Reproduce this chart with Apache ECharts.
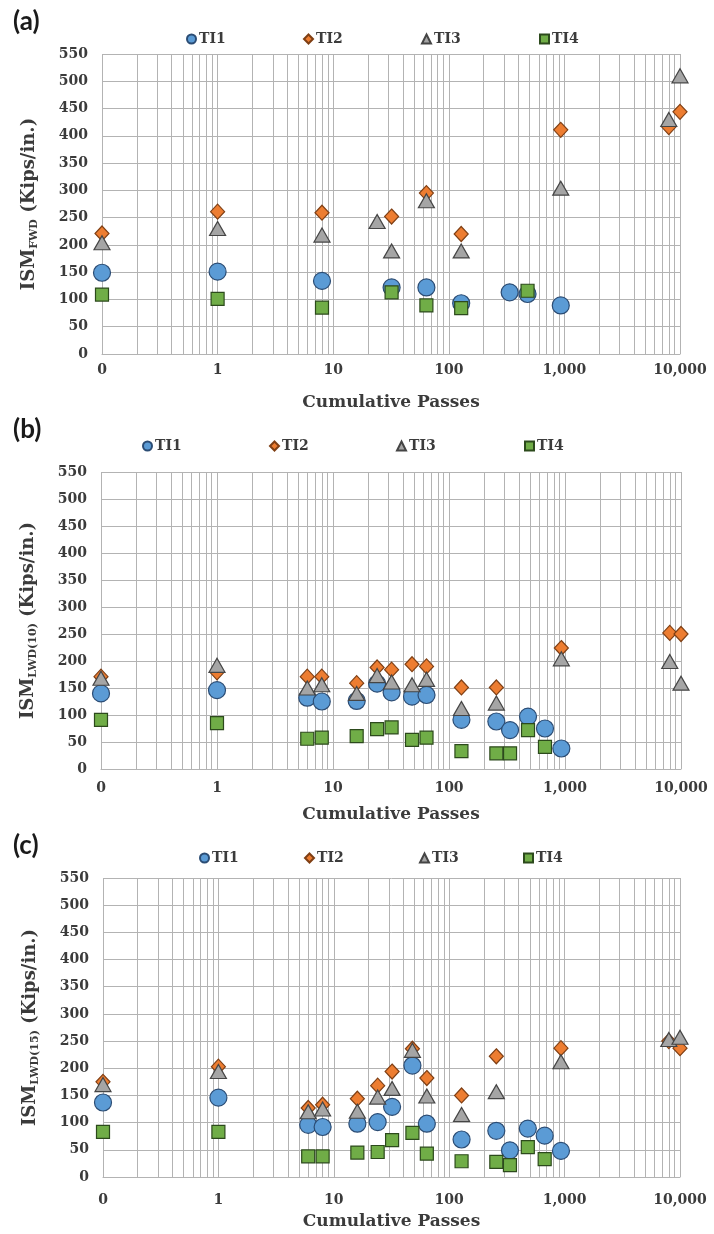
<!DOCTYPE html>
<html>
<head>
<meta charset="utf-8">
<script src="https://cdn.jsdelivr.net/npm/echarts@6/dist/echarts.min.js"></script>
<style>
  html, body { margin: 0; padding: 0; background: #ffffff; }
  #chart { width: 714px; height: 1234px; }
</style>
</head>
<body>
<div id="chart"></div>
<script>
// Series names and x-axis tick labels (the "0" tick sits at 0.1 passes on the log axis)
const seriesNames = ['TI1', 'TI2', 'TI3', 'TI4'];
const xTickValues = [0.1, 1, 10, 100, 1000, 10000];
const xTickLabels = ['0', '1', '10', '100', '1,000', '10,000'];
const yMax = 550;
const yStep = 50;

// (a) ISM from FWD
const passesA = [0.1, 1, 8, 24, 32, 64, 128, 336, 480, 930, 8000, 10000];
const ti1A = [149, 151, 134, null, 122, 122, 93, 113, 110, 89, null, null];
const ti2A = [221, 261, 259, null, 252, 295, 220, null, null, 411, 416, 444];
const ti3A = [204, 230, 218, 243, 189, 281, 189, null, null, 304, 430, 510];
const ti4A = [109, 101, 85, null, 113, 89, 84, null, 116, null, null, null];

// (b) ISM from LWD, 10 in. offset
const passesB = [0.1, 1, 6, 8, 16, 24, 32, 48, 64, 128, 256, 336, 480, 672, 930, 8000, 10000];
const ti1B = [140, 146, 132, 125, 126, 158, 142, 134, 137, 91, 88, 72, 97, 75, 38, null, null];
const ti2B = [171, 179, 171, 171, 159, 188, 184, 194, 190, 151, 151, null, null, null, 224, 252, 250];
const ti3B = [168, 192, 150, 156, 140, 173, 161, 156, 166, 112, 122, null, null, null, 204, 199, 159];
const ti4B = [91, 85, 56, 58, 61, 74, 77, 54, 58, 33, 29, 29, 72, 41, null, null, null];

// (c) ISM from LWD, 15 in. offset
const passesC = [0.1, 1, 6, 8, 16, 24, 32, 48, 64, 128, 256, 336, 480, 672, 930, 8000, 10000];
const ti1C = [137, 146, 96, 92, 98, 101, 129, 205, 98, 69, 85, 49, 89, 76, 48, null, null];
const ti2C = [175, 203, 127, 133, 144, 168, 194, 236, 182, 150, 222, null, null, null, 237, 250, 237];
const ti3C = [170, 194, 120, 125, 121, 147, 163, 233, 149, 115, 157, null, null, null, 212, 253, 257];
const ti4C = [83, 83, 38, 38, 45, 46, 68, 81, 43, 29, 28, 22, 55, 33, null, null, null];

const SERIF = '"DejaVu Serif", "Liberation Serif", serif';
const TEXT = '#3b3b3b';
const GRID_LINE = '#b3b3b3';

const markerStyles = [
  { symbol: 'circle',   size: 17,       fill: '#5b9bd5', edge: '#2b4c74' },
  { symbol: 'diamond',  size: [14, 15], fill: '#ed7d31', edge: '#7f3f14' },
  { symbol: 'triangle', size: [16, 14], fill: '#a5a5a5', edge: '#454545' },
  { symbol: 'rect',     size: 13,       fill: '#70ad47', edge: '#2c4a1c' }
];

// Log-cycle gridline values: 1..9 within each decade
const logGridValues = [];
for (let e = -1; e < 4; e++) {
  for (let k = 1; k < 10; k++) logGridValues.push(+(k * Math.pow(10, e)).toPrecision(6));
}
logGridValues.push(10000);

const panels = [
  {
    tag: '(a)', tagTop: 4, sub: 'FWD',
    grid: { left: 102, top: 54, width: 578, height: 300 },
    legendY: 35, legendX: [186, 303, 421, 539],
    labelMargin: 9, nameGap: 40,
    passes: passesA, values: [ti1A, ti2A, ti3A, ti4A]
  },
  {
    tag: '(b)', tagTop: 412, sub: 'LWD(10)',
    grid: { left: 101, top: 472, width: 580, height: 297 },
    legendY: 442, legendX: [142, 269, 396, 524],
    labelMargin: 12, nameGap: 37,
    passes: passesB, values: [ti1B, ti2B, ti3B, ti4B]
  },
  {
    tag: '(c)', tagTop: 828, sub: 'LWD(15)',
    grid: { left: 103, top: 878, width: 577, height: 299 },
    legendY: 854, legendX: [199, 304, 419, 523],
    labelMargin: 16, nameGap: 36,
    passes: passesC, values: [ti1C, ti2C, ti3C, ti4C]
  }
];

function tickLabel(v) {
  const i = xTickValues.findIndex(t => Math.abs(Math.log10(t) - Math.log10(v)) < 1e-6);
  return i >= 0 ? xTickLabels[i] : '';
}

const option = {
  animation: false,
  backgroundColor: '#ffffff',
  title: [], legend: [], grid: [], xAxis: [], yAxis: [], series: []
};

panels.forEach((p, gi) => {
  option.title.push({
    text: p.tag, left: 8, top: p.tagTop,
    textStyle: { fontFamily: 'Lato, "Open Sans", sans-serif', fontWeight: 'bold', fontSize: 26, color: '#1a1a1a' }
  });

  seriesNames.forEach((name, si) => {
    option.legend.push({
      data: [name],
      left: p.legendX[si] - 5,
      top: p.legendY - 8,
      itemWidth: 9, itemHeight: 9, itemGap: 0,
      selectedMode: false,
      textStyle: { fontFamily: SERIF, fontWeight: 'bold', fontSize: 14, color: TEXT, padding: [0, 0, 0, -2] }
    });
  });

  option.grid.push(Object.assign({ containLabel: false }, p.grid));

  option.xAxis.push({
    type: 'log', logBase: 10, gridIndex: gi,
    min: xTickValues[0], max: xTickValues[xTickValues.length - 1],
    splitNumber: 5,
    name: 'Cumulative Passes', nameLocation: 'middle', nameGap: p.nameGap,
    nameTextStyle: { fontFamily: SERIF, fontWeight: 'bold', fontSize: 17, color: TEXT },
    axisLine: { show: true, lineStyle: { color: GRID_LINE, width: 1 } },
    axisTick: { show: false },
    splitLine: { show: false },
    axisLabel: {
      margin: p.labelMargin, formatter: tickLabel,
      fontFamily: SERIF, fontWeight: 'bold', fontSize: 14, color: TEXT
    }
  });

  option.yAxis.push({
    type: 'value', gridIndex: gi, min: 0, max: yMax, interval: yStep,
    name: '{m|ISM}{s|' + p.sub + '}{m| (Kips/in.)}',
    nameLocation: 'middle', nameGap: 62, nameRotate: 90,
    nameTextStyle: {
      rich: {
        m: { fontFamily: SERIF, fontWeight: 'bold', fontSize: 18, color: TEXT, lineHeight: 22 },
        s: { fontFamily: SERIF, fontWeight: 'bold', fontSize: 11, color: TEXT, lineHeight: 22, verticalAlign: 'bottom', padding: [7, 0, 0, 0] }
      }
    },
    axisLine: { show: false },
    axisTick: { show: false },
    splitLine: { show: true, lineStyle: { color: GRID_LINE, width: 1 } },
    axisLabel: { margin: 14, fontFamily: SERIF, fontWeight: 'bold', fontSize: 14, color: TEXT }
  });

  // vertical log-cycle gridlines
  option.series.push({
    type: 'scatter', xAxisIndex: gi, yAxisIndex: gi, data: [], z: 1, silent: true,
    markLine: {
      silent: true, symbol: 'none', z: 1,
      label: { show: false },
      lineStyle: { color: GRID_LINE, width: 1, type: 'solid' },
      emphasis: { disabled: true },
      data: logGridValues.map(v => ({ xAxis: v }))
    }
  });

  seriesNames.forEach((name, si) => {
    const m = markerStyles[si];
    const ys = p.values[si];
    const data = [];
    p.passes.forEach((x, i) => { if (ys[i] != null) data.push([x, ys[i]]); });
    option.series.push({
      name: name, type: 'scatter', xAxisIndex: gi, yAxisIndex: gi, z: 5,
      symbol: m.symbol, symbolSize: m.size,
      itemStyle: { color: m.fill, borderColor: m.edge, borderWidth: 1.2, opacity: 1 },
      data: data
    });
  });
});

const chart = echarts.init(document.getElementById('chart'), null, { renderer: 'canvas' });
chart.setOption(option);
</script>
</body>
</html>
